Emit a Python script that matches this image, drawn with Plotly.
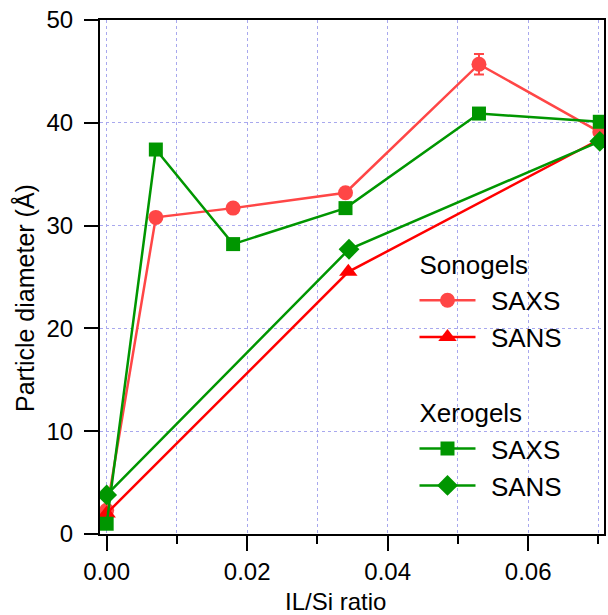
import plotly.graph_objects as go

# ---- data ----
il_si_sono_saxs = [0.0, 0.007, 0.018, 0.034, 0.053, 0.0702]
d_sono_saxs = [2.3, 30.8, 31.7, 33.2, 45.7, 39.1]
err_sono_saxs = [0, 0, 0, 0, 1.0, 0]

il_si_sono_sans = [0.0, 0.0344, 0.0702]
d_sono_sans = [2.0, 25.5, 38.4]

il_si_xero_saxs = [0.0, 0.007, 0.018, 0.034, 0.053, 0.0702]
d_xero_saxs = [1.0, 37.4, 28.2, 31.7, 40.9, 40.1]

il_si_xero_sans = [0.0, 0.0345, 0.0702]
d_xero_sans = [3.8, 27.7, 38.2]

series_names = ["SAXS", "SANS"]
group_titles = ["Sonogels", "Xerogels"]

x_range = [-0.00095, 0.0708]
y_range = [0, 50]

FONT = "Liberation Sans, Arial, sans-serif"
RED_LIGHT = "#FF4646"
RED = "#FF0000"
GREEN = "#009600"
GRID = "#A8A8EE"
PAD = "\u2009\u2009"

fig = go.Figure()

fig.add_trace(go.Scatter(
    x=il_si_sono_saxs, y=d_sono_saxs, mode="lines+markers", name=PAD + series_names[0],
    legendgroup="sono", legendgrouptitle_text=group_titles[0],
    line=dict(color=RED_LIGHT, width=2.5),
    marker=dict(symbol="circle", size=15, color=RED_LIGHT),
    error_y=dict(type="data", array=err_sono_saxs, color=RED_LIGHT, thickness=2, width=5),
))
fig.add_trace(go.Scatter(
    x=il_si_sono_sans, y=d_sono_sans, mode="lines+markers", name=PAD + series_names[1],
    legendgroup="sono",
    line=dict(color=RED, width=2.5),
    marker=dict(symbol="triangle-up", size=16, color=RED),
))
fig.add_trace(go.Scatter(
    x=il_si_xero_saxs, y=d_xero_saxs, mode="lines+markers", name=PAD + series_names[0],
    legendgroup="xero", legendgrouptitle_text=group_titles[1],
    line=dict(color=GREEN, width=2.5),
    marker=dict(symbol="square", size=14, color=GREEN),
))
fig.add_trace(go.Scatter(
    x=il_si_xero_sans, y=d_xero_sans, mode="lines+markers", name=PAD + series_names[1],
    legendgroup="xero",
    line=dict(color=GREEN, width=2.5),
    marker=dict(symbol="diamond", size=16, color=GREEN),
))

fig.update_layout(
    width=608, height=615,
    margin=dict(l=100, r=2, t=20, b=81),
    paper_bgcolor="white", plot_bgcolor="white",
    font=dict(family=FONT, color="black", size=24),
    showlegend=True,
    legend=dict(
        x=0.624, y=0.572, xanchor="left", yanchor="top",
        bgcolor="rgba(0,0,0,0)", borderwidth=0,
        font=dict(size=26, family=FONT, color="black"),
        grouptitlefont=dict(size=26, family=FONT, color="black"),
        traceorder="grouped", tracegroupgap=38,
        itemwidth=56,
    ),
    xaxis=dict(
        range=x_range, dtick=0.02, tick0=0, tickformat=".2f",
        showline=True, linecolor="black", linewidth=2, mirror=True,
        ticks="outside", ticklen=15, tickwidth=2, tickcolor="black",
        showgrid=True, gridcolor=GRID, griddash="dot", gridwidth=1,
        zeroline=False,
        tickfont=dict(size=24, family=FONT),
        minor=dict(dtick=0.01, tick0=0, ticks="outside", ticklen=8, tickwidth=2,
                   tickcolor="black", showgrid=True, gridcolor=GRID,
                   griddash="dot", gridwidth=1),
    ),
    yaxis=dict(
        range=y_range, dtick=10, tick0=0,
        showline=True, linecolor="black", linewidth=2, mirror=True,
        ticks="outside", ticklen=14, tickwidth=2, tickcolor="black",
        showgrid=True, gridcolor=GRID, griddash="dot", gridwidth=1,
        zeroline=False,
        tickfont=dict(size=24, family=FONT),
        ticklabelstandoff=6,
    ),
    annotations=[
        dict(text="IL/Si ratio", xref="paper", yref="paper", x=0.468, y=-0.132,
             xanchor="center", yanchor="middle", showarrow=False,
             font=dict(size=24, family=FONT)),
        dict(text="Particle diameter (Å)", xref="paper", yref="paper", x=-0.150, y=0.46,
             xanchor="center", yanchor="middle", textangle=-90, showarrow=False,
             font=dict(size=25, family=FONT)),
    ],
)

fig.write_html("out.html")
